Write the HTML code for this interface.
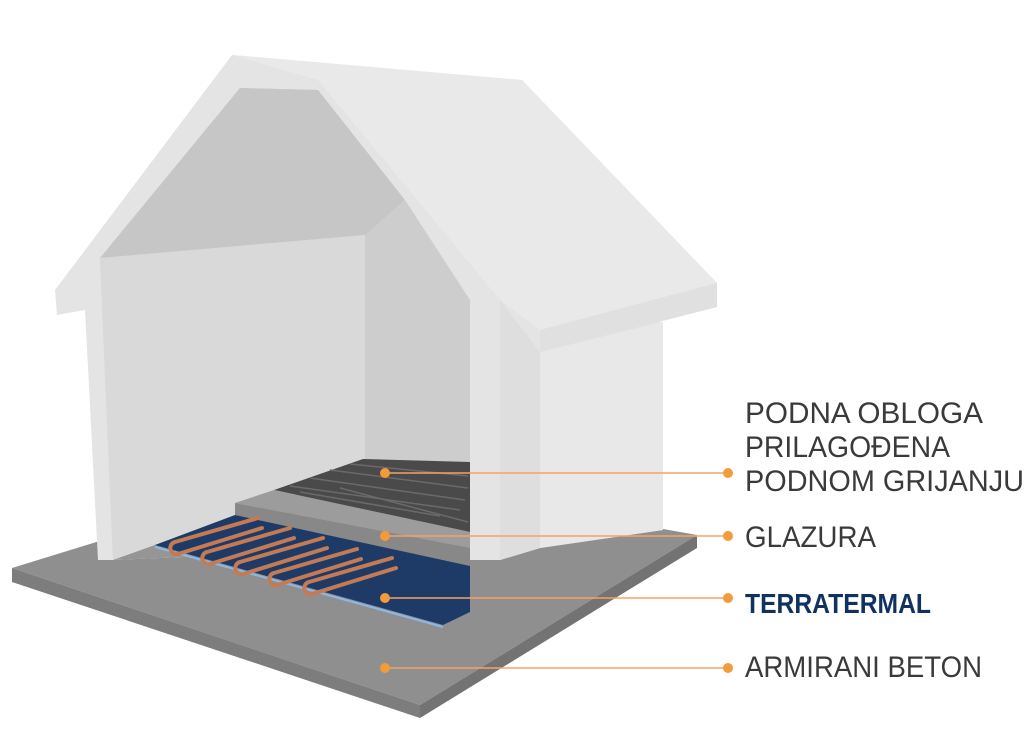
<!DOCTYPE html>
<html><head><meta charset="utf-8"><style>
html,body{margin:0;padding:0;background:#fff;}
svg{display:block;}
text{font-family:"Liberation Sans",sans-serif;}
</style></head><body>
<svg width="1024" height="742" viewBox="0 0 1024 742" xmlns="http://www.w3.org/2000/svg">
<!-- slab -->
<polygon points="12,568 330,470 697,535 420,705" fill="#8f8f8f"/>
<polygon points="12,568 420,705 420,718 12,582" fill="#7d7d7d"/>
<polygon points="420,705 697,535 697,548 420,718" fill="#737373"/>
<!-- house silhouette -->
<polygon points="55,290 232,55 522,80 717,283 717,307 540,352 500,310 663,322 663,530 540,548 500,560 470,560 470,545 113,560 98,560 85,310 57,315" fill="#e4e4e4"/>
<!-- right wall -->
<polygon points="500,310 540,352 663,322 663,530 540,548 500,560" fill="#e8e8e8"/>
<polygon points="500,300 500,560 540,548 540,352" fill="#dedede"/>
<!-- roof surface -->
<polygon points="232,55 522,80 717,283 540,330 500,300 318,80" fill="#e9e9e9"/>
<polygon points="717,283 717,307 540,352 540,330" fill="#e0e0e0"/>
<!-- cavity -->
<polygon points="100,258 240,88 318,90 470,300 470,545 113,560" fill="#d3d3d3"/>
<polygon points="100,258 240,88 318,90 405,200 365,235" fill="#c6c6c6"/>
<polygon points="365,235 405,200 470,300 470,520 365,470" fill="#cdcdcd"/>
<polygon points="100,258 365,235 365,470 113,560" fill="#d9d9d9"/>
<!-- interior floor -->
<polygon points="113,560 365,470 470,490 470,545" fill="#959595"/>
<!-- wood -->
<polygon points="274,490 363,459 470,462 470,532" fill="#4a4a4a"/>
<g stroke="#6a6a6a" stroke-width="1.5">
<line x1="290" y1="486" x2="460" y2="510"/><line x1="310" y1="478" x2="465" y2="500"/>
<line x1="330" y1="470" x2="468" y2="488"/><line x1="350" y1="464" x2="468" y2="476"/>
<line x1="300" y1="492" x2="440" y2="516"/><line x1="340" y1="488" x2="468" y2="522"/>
</g>
<!-- glazura -->
<polygon points="235,503 274,490 470,532 470,548" fill="#9c9c9c"/>
<polygon points="235,503 470,548 470,566 235,515" fill="#888"/>
<!-- blue -->
<polygon points="155,545 235,515 470,566 470,612 443,625" fill="#1e3a66"/>
<line x1="155" y1="547" x2="443" y2="627" stroke="#8db8e6" stroke-width="2"/>
<g fill="none" stroke="#c47a52" stroke-width="4" stroke-linecap="round">
<path d="M258 518 L175 542 A6 6 0 0 0 178 554 L262 528"/>
<path d="M290 528 L207 552 A6 6 0 0 0 210 564 L294 538"/>
<path d="M323 538 L240 562 A6 6 0 0 0 243 574 L327 548"/>
<path d="M357 549 L274 573 A6 6 0 0 0 277 585 L361 559"/>
<path d="M392 558 L309 582 A6 6 0 0 0 312 594 L396 568"/>
</g>
<!-- connectors -->
<g stroke="#f0a566" stroke-width="1.6">
<line x1="385" y1="473" x2="728" y2="473"/>
<line x1="385" y1="536" x2="728" y2="536"/>
<line x1="385" y1="598" x2="728" y2="598"/>
<line x1="385" y1="668" x2="728" y2="668"/>
</g>
<g fill="#f39a3a">
<circle cx="385" cy="473" r="5"/><circle cx="728" cy="473" r="5"/>
<circle cx="385" cy="536" r="5"/><circle cx="728" cy="536" r="5"/>
<circle cx="385" cy="598" r="5"/><circle cx="728" cy="598" r="5"/>
<circle cx="385" cy="668" r="5"/><circle cx="728" cy="668" r="5"/>
</g>
<!-- labels -->
<g fill="#3a3a3a" font-size="30">
<text x="745" y="423" textLength="238" lengthAdjust="spacingAndGlyphs">PODNA OBLOGA</text>
<text x="745" y="457" textLength="205" lengthAdjust="spacingAndGlyphs">PRILAGOĐENA</text>
<text x="745" y="491" textLength="279" lengthAdjust="spacingAndGlyphs">PODNOM GRIJANJU</text>
<text x="745" y="547" textLength="131" lengthAdjust="spacingAndGlyphs">GLAZURA</text>
<text x="745" y="677" textLength="237" lengthAdjust="spacingAndGlyphs">ARMIRANI BETON</text>
</g>
<text x="745" y="613" font-size="28" font-weight="bold" fill="#0f3260" textLength="186" lengthAdjust="spacingAndGlyphs">TERRATERMAL</text>
</svg>
</body></html>
